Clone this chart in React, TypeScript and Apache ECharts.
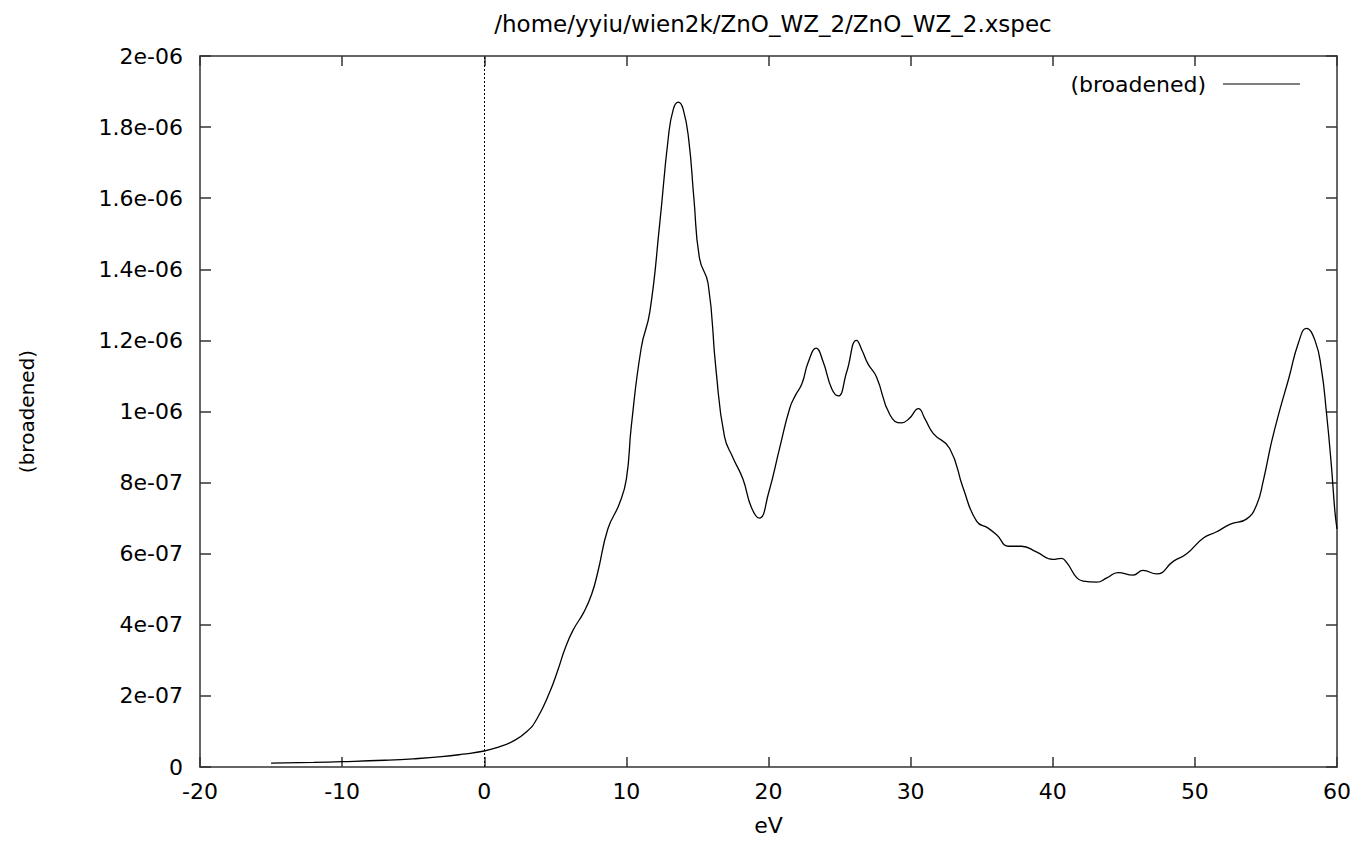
import React, { useEffect, useRef } from "react";
import * as echarts from "echarts";

const chartTitle = "/home/yyiu/wien2k/ZnO_WZ_2/ZnO_WZ_2.xspec";
const seriesName = "(broadened)";
const xAxisName = "eV";
const yAxisName = "(broadened)";

const xTicks = [-20, -10, 0, 10, 20, 30, 40, 50, 60];
const yTickLabels = ["0", "2e-07", "4e-07", "6e-07", "8e-07", "1e-06", "1.2e-06", "1.4e-06", "1.6e-06", "1.8e-06", "2e-06"];

const energy = [
  -15, -12, -10, -7, -5, -3, -1.5, 0, 1, 2, 3, 3.7, 4.6, 5.2, 5.7, 6.25, 7, 7.55, 8.0, 8.7,
  9.5, 10.0, 10.35, 11.05, 11.65, 12.35, 12.95, 13.3, 13.65, 14.0, 14.4, 14.75, 15.15, 15.75, 16.3, 16.9,
  17.5, 18.2, 18.8, 19.35, 20.0, 20.8, 21.5, 21.9, 22.35, 22.8, 23.35, 23.85, 24.45, 24.9, 25.5, 26.2,
  26.6, 27.0, 27.6, 28.55, 29.35, 29.9, 30.55, 31.0, 31.6, 32.75, 33.7, 34.65, 35.45, 36.05, 36.9, 37.8,
  38.85, 40.0, 40.6, 41.0, 41.7, 42.15, 43.1, 43.8, 44.6, 45.65, 46.35, 47.3, 48.5, 49.4, 50.6, 51.5,
  52.5, 53.65, 54.35, 54.8, 55.4, 56.0, 56.6, 57.3, 57.85, 58.45, 58.9, 59.25, 59.6, 59.85, 60.0,
];

const broadened = [
  1.1e-8, 1.3e-8, 1.5e-8, 1.9e-8, 2.3e-8, 2.9e-8, 3.6e-8, 4.5e-8, 5.6e-8, 7.2e-8, 1.0e-7, 1.35e-7, 2.1e-7, 2.75e-7, 3.35e-7, 3.85e-7, 4.35e-7, 4.85e-7, 5.5e-7, 6.7e-7,
  7.4e-7, 8.1e-7, 9.6e-7, 1.18e-6, 1.28e-6, 1.53e-6, 1.77e-6, 1.85e-6, 1.87e-6, 1.85e-6, 1.76e-6, 1.6e-6, 1.43e-6, 1.36e-6, 1.12e-6, 0.93e-6,
  0.87e-6, 0.81e-6, 0.73e-6, 0.70e-6, 0.77e-6, 0.90e-6, 1.01e-6, 1.046e-6, 1.078e-6, 1.139e-6, 1.178e-6, 1.139e-6, 1.064e-6, 1.044e-6, 1.111e-6, 1.2e-6,
  1.17e-6, 1.134e-6, 1.097e-6, 0.99e-6, 0.968e-6, 0.98e-6, 1.008e-6, 0.98e-6, 0.938e-6, 0.896e-6, 0.784e-6, 0.691e-6, 0.672e-6, 0.653e-6, 0.621e-6, 0.621e-6,
  0.605e-6, 0.584e-6, 0.587e-6, 0.574e-6, 0.532e-6, 0.523e-6, 0.52e-6, 0.532e-6, 0.547e-6, 0.54e-6, 0.553e-6, 0.543e-6, 0.579e-6, 0.599e-6, 0.644e-6, 0.661e-6,
  0.683e-6, 0.698e-6, 0.738e-6, 0.803e-6, 0.915e-6, 1.008e-6, 1.092e-6, 1.195e-6, 1.234e-6, 1.2e-6, 1.12e-6, 1.0e-6, 0.85e-6, 0.72e-6, 0.67e-6,
];

const FONT = "DejaVu Sans";
const AXIS_COLOR = "#333";

export default function App() {
  const ref = useRef<HTMLDivElement>(null);

  useEffect(() => {
    if (!ref.current) return;
    const chart = echarts.init(ref.current, undefined, { renderer: "svg" });
    const data = energy.map((x, i) => [x, broadened[i]]);
    const yStep = 2e-7;
    const yLabel = (v: number) => {
      const idx = Math.round(v / yStep);
      return yTickLabels[idx] ?? "";
    };
    const xMin = xTicks[0];
    const xMax = xTicks[xTicks.length - 1];
    const xInterval = xTicks[1] - xTicks[0];
    const axisLine = { show: true, onZero: false, lineStyle: { color: AXIS_COLOR, width: 1.5 } };

    chart.setOption({
      animation: false,
      backgroundColor: "#ffffff",
      textStyle: { fontFamily: FONT },
      title: {
        text: chartTitle,
        left: 768,
        textAlign: "center",
        top: 7,
        textStyle: { fontFamily: FONT, fontSize: 23, fontWeight: "normal", color: "#000" },
      },
      legend: {
        right: 57,
        top: 68,
        align: "right",
        itemWidth: 77,
        itemHeight: 20,
        icon: "path://M0,10 L77,10 L77,11 L0,11 Z",
        data: [{ name: seriesName }],
        textStyle: { fontFamily: FONT, fontSize: 22, color: "#000", padding: [0, 12, 0, 0] },
        itemStyle: { color: "#000" },
      },
      grid: { left: 200, right: 25, top: 56, bottom: 71, containLabel: false },
      xAxis: [
        {
          type: "value",
          min: xMin,
          max: xMax,
          interval: xInterval,
          position: "bottom",
          name: xAxisName,
          nameLocation: "middle",
          nameGap: 47,
          nameTextStyle: { fontFamily: FONT, fontSize: 22, color: "#000" },
          axisLine,
          axisTick: { show: true, inside: true, length: 10, lineStyle: { color: AXIS_COLOR, width: 1.5 } },
          axisLabel: { fontFamily: FONT, fontSize: 22, color: "#000", margin: 13 },
          splitLine: { show: false },
        },
        {
          type: "value",
          min: xMin,
          max: xMax,
          interval: xInterval,
          position: "top",
          axisLine,
          axisTick: { show: true, inside: true, length: 10, lineStyle: { color: AXIS_COLOR, width: 1.5 } },
          axisLabel: { show: false },
          splitLine: { show: false },
        },
      ],
      yAxis: [
        {
          type: "value",
          min: 0,
          max: 2e-6,
          interval: yStep,
          position: "left",
          name: yAxisName,
          nameLocation: "middle",
          nameGap: 163,
          nameRotate: 90,
          nameTextStyle: { fontFamily: FONT, fontSize: 20, color: "#000" },
          axisLine,
          axisTick: { show: true, inside: true, length: 11, lineStyle: { color: AXIS_COLOR, width: 1.5 } },
          axisLabel: { fontFamily: FONT, fontSize: 22, color: "#000", margin: 17, formatter: yLabel },
          splitLine: { show: false },
        },
        {
          type: "value",
          min: 0,
          max: 2e-6,
          interval: yStep,
          position: "right",
          axisLine,
          axisTick: { show: true, inside: true, length: 11, lineStyle: { color: AXIS_COLOR, width: 1.5 } },
          axisLabel: { show: false },
          splitLine: { show: false },
        },
      ],
      series: [
        {
          name: seriesName,
          type: "line",
          xAxisIndex: 0,
          yAxisIndex: 0,
          data,
          symbol: "none",
          showSymbol: false,
          smooth: 0.5,
          lineStyle: { color: "#000", width: 1.3 },
          itemStyle: { color: "#000" },
          markLine: {
            silent: true,
            symbol: ["none", "none"],
            label: { show: false },
            lineStyle: { color: "#000", type: [2, 2], width: 1 },
            data: [{ xAxis: 0 }],
          },
        },
      ],
    });
    return () => chart.dispose();
  }, []);

  return (
    <div
      ref={ref}
      style={{ position: "fixed", left: 0, top: 0, width: 1362, height: 841, background: "#fff" }}
    />
  );
}
